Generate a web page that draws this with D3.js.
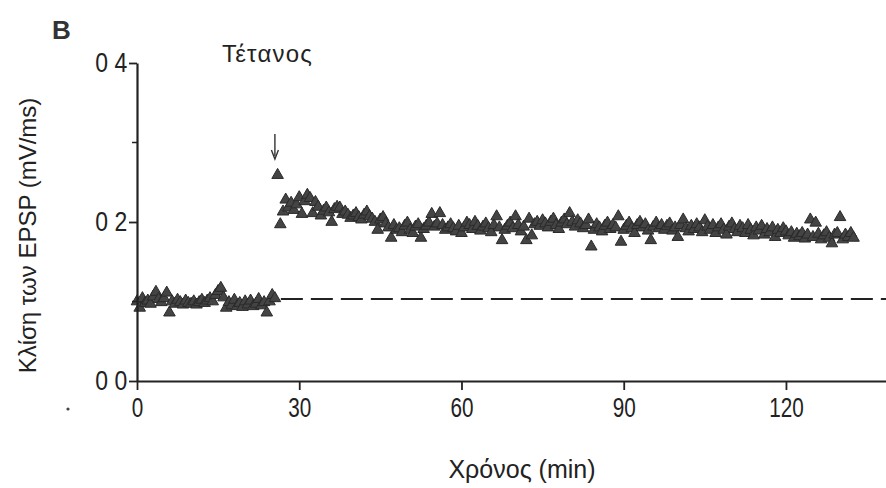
<!DOCTYPE html>
<html>
<head>
<meta charset="utf-8">
<script src="https://cdn.jsdelivr.net/npm/d3@7"></script>
<style>
  body { margin: 0; background: #fff; }
  text { font-family: "Liberation Sans Narrow", "Liberation Sans", Arial, sans-serif; fill: #222; }
</style>
</head>
<body>
<div id="chart"></div>
<script>
// pre-tetanus slopes, one every 0.5 min from 0 min
const preStart = 0, step = 0.5;
const preValues = [
  0.100, 0.092, 0.104, 0.098, 0.101, 0.097, 0.106, 0.112, 0.103, 0.099,
  0.104, 0.111, 0.086, 0.100, 0.097, 0.102, 0.099, 0.096, 0.101, 0.098,
  0.097, 0.100, 0.096, 0.099, 0.102, 0.098, 0.101, 0.104, 0.100, 0.108,
  0.113, 0.117, 0.105, 0.092, 0.099, 0.095, 0.102, 0.094, 0.098, 0.093,
  0.100, 0.096, 0.101, 0.094, 0.097, 0.103, 0.095, 0.099, 0.086, 0.100,
  0.108, 0.104
];
// post-tetanus slopes, one every 0.5 min from 26 min
const postStart = 26;
const postValues = [
  0.259, 0.197, 0.213, 0.228, 0.218, 0.224, 0.215, 0.222, 0.231, 0.210,
  0.226, 0.234, 0.230, 0.211, 0.225, 0.219, 0.208, 0.214, 0.218, 0.212,
  0.200, 0.216, 0.219, 0.218, 0.210, 0.213, 0.209, 0.205, 0.208, 0.211,
  0.206, 0.203, 0.209, 0.213, 0.207, 0.204, 0.200, 0.190, 0.203, 0.206,
  0.198, 0.193, 0.180, 0.196, 0.190, 0.192, 0.187, 0.195, 0.199, 0.190,
  0.186, 0.194, 0.197, 0.180, 0.191, 0.195, 0.199, 0.210, 0.194, 0.198,
  0.211, 0.196, 0.190, 0.193, 0.197, 0.192, 0.188, 0.195, 0.186, 0.193,
  0.199, 0.196, 0.191, 0.200, 0.195, 0.189, 0.194, 0.198, 0.192, 0.187,
  0.196, 0.207, 0.193, 0.177, 0.190, 0.195, 0.199, 0.192, 0.207, 0.196,
  0.188, 0.194, 0.177, 0.204, 0.183, 0.197, 0.200, 0.195, 0.202, 0.198,
  0.193, 0.200, 0.204, 0.196, 0.191, 0.199, 0.203, 0.197, 0.211, 0.200,
  0.194, 0.202, 0.198, 0.192, 0.196, 0.203, 0.169, 0.190, 0.197, 0.193,
  0.188, 0.195, 0.199, 0.191, 0.196, 0.193, 0.207, 0.175, 0.190, 0.195,
  0.199, 0.192, 0.186, 0.196, 0.200, 0.193, 0.197, 0.189, 0.177, 0.194,
  0.199, 0.192, 0.196, 0.190, 0.195, 0.198, 0.189, 0.193, 0.181, 0.196,
  0.203, 0.192, 0.188, 0.195, 0.191, 0.197, 0.193, 0.187, 0.202, 0.194,
  0.190, 0.196, 0.186, 0.193, 0.197, 0.190, 0.184, 0.194, 0.198, 0.191,
  0.187, 0.195, 0.192, 0.186, 0.196, 0.190, 0.183, 0.193, 0.189, 0.195,
  0.184, 0.191, 0.187, 0.193, 0.181, 0.190, 0.186, 0.192, 0.188, 0.183,
  0.187, 0.180, 0.185, 0.182, 0.186, 0.179, 0.184, 0.203, 0.181, 0.199,
  0.185, 0.178, 0.183, 0.187, 0.180, 0.173, 0.184, 0.186, 0.206, 0.178,
  0.184, 0.181, 0.186, 0.180
];
const baseline = 0.103;      // dashed control level
const tetanusTime = 25.5;    // min
const xTicks = [0, 30, 60, 90, 120];
const yTicks = [0, 0.2, 0.4];
const yMinor = [0.1, 0.3];
const yTickLabels = ['0 0', '0 2', '0 4'];

const W = 886, H = 488;
const x = d3.scaleLinear().domain([0, 138.5]).range([137, 886]);
const y = d3.scaleLinear().domain([0, 0.4]).range([381, 63]);

const svg = d3.select('#chart').append('svg')
  .attr('width', W).attr('height', H);

// points
const pts = preValues.map((v, i) => [preStart + i * step, v])
  .concat(postValues.map((v, i) => [postStart + i * step, v]));

const tri = d3.symbol().type(d3.symbolTriangle).size(58);
svg.append('g').selectAll('path')
  .data(pts).enter().append('path')
  .attr('d', tri)
  .attr('transform', d => `translate(${x(d[0])},${y(d[1])})`)
  .attr('fill', '#444')
  .attr('stroke', '#2a2a2a')
  .attr('stroke-width', 1);

// dashed baseline after tetanus
svg.append('line')
  .attr('x1', x(26.6)).attr('x2', x(138.5))
  .attr('y1', y(baseline)).attr('y2', y(baseline))
  .attr('stroke', '#222').attr('stroke-width', 2)
  .attr('stroke-dasharray', '22,8');

// axes
const xAxis = d3.axisBottom(x).tickValues(xTicks).tickSize(9).tickPadding(7).tickSizeOuter(0);
const gx = svg.append('g').attr('transform', `translate(0,${y(0)})`).call(xAxis);
gx.select('.domain').attr('stroke', '#222').attr('stroke-width', 2.2);
gx.selectAll('.tick line').attr('stroke', '#222').attr('stroke-width', 1.8);
gx.selectAll('.tick text').attr('font-size', 28).attr('fill', '#222')
  .attr('font-family', '"Liberation Sans Narrow", "Liberation Sans", Arial, sans-serif')
  .attr('transform', 'scale(0.74,1)');

const yAxis = d3.axisLeft(y).tickValues(yTicks).tickSize(8).tickPadding(4)
  .tickSizeOuter(0).tickFormat((d, i) => yTickLabels[i]);
const gy = svg.append('g').attr('transform', `translate(${x(0)},0)`).call(yAxis);
gy.select('.domain').attr('stroke', '#222').attr('stroke-width', 2.2);
gy.selectAll('.tick line').attr('stroke', '#222').attr('stroke-width', 1.8);
gy.selectAll('.tick text').attr('font-size', 28).attr('fill', '#222')
  .attr('font-family', '"Liberation Sans Narrow", "Liberation Sans", Arial, sans-serif')
  .attr('transform', 'scale(0.82,1)');

svg.append('g').selectAll('line').data(yMinor).enter().append('line')
  .attr('x1', x(0) - 5).attr('x2', x(0))
  .attr('y1', d => y(d)).attr('y2', d => y(d))
  .attr('stroke', '#222').attr('stroke-width', 1.5);

// labels
svg.append('text').attr('x', 52).attr('y', 39)
  .attr('font-size', 26).attr('font-weight', 'bold')
  .attr('font-family', '"Liberation Sans", Arial, sans-serif')
  .style('fill', '#333').text('B');

svg.append('text').attr('x', 222).attr('y', 62)
  .attr('font-size', 24).attr('letter-spacing', 1.2)
  .attr('font-family', '"Liberation Sans", Arial, sans-serif')
  .text('Τέτανος');

svg.append('text')
  .attr('transform', `translate(36,${(90 + 381) / 2}) rotate(-90)`)
  .attr('text-anchor', 'middle').attr('font-size', 24)
  .attr('font-family', '"Liberation Sans", Arial, sans-serif')
  .text('Κλίση των EPSP (mV/ms)');

svg.append('text').attr('x', 522).attr('y', 478)
  .attr('text-anchor', 'middle').attr('font-size', 25)
  .text('Χρόνος (min)');

// tetanus arrow
const ax = x(tetanusTime);
svg.append('line').attr('x1', ax).attr('x2', ax).attr('y1', 134).attr('y2', 156)
  .attr('stroke', '#333').attr('stroke-width', 1.4);
svg.append('path')
  .attr('d', `M${ax - 3.5},${150} L${ax},${159} L${ax + 3.5},${150}`)
  .attr('fill', 'none').attr('stroke', '#333').attr('stroke-width', 1.4);

// stray print dot
svg.append('circle').attr('cx', 68).attr('cy', 409).attr('r', 1.6).attr('fill', '#444');
</script>
</body>
</html>
